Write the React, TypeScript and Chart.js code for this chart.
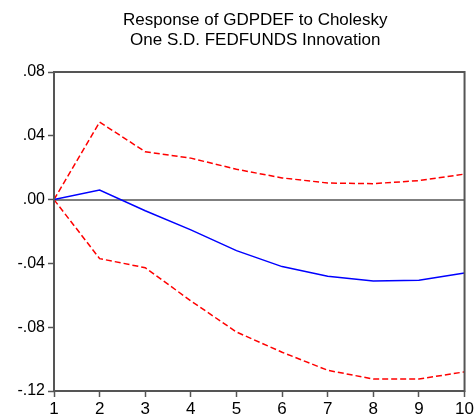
import React, { useEffect, useRef } from "react";
import { Chart, registerables } from "chart.js";

Chart.register(...registerables);

const periods = [1, 2, 3, 4, 5, 6, 7, 8, 9, 10];
const response = [0, 0.006, -0.007, -0.019, -0.032, -0.042, -0.048, -0.051, -0.0506, -0.046];
const upperBand = [0, 0.0486, 0.030, 0.026, 0.019, 0.0136, 0.0104, 0.010, 0.0119, 0.016];
const lowerBand = [0, -0.037, -0.0427, -0.0635, -0.083, -0.0957, -0.107, -0.1125, -0.1125, -0.108];
const yTickValues = [-0.12, -0.08, -0.04, 0, 0.04, 0.08];
const titleLines = ["Response of GDPDEF to Cholesky", "One S.D. FEDFUNDS Innovation"];

const AXIS_COLOR = "#555555";
const FONT = '"Liberation Sans", Arial, sans-serif';

function fmtY(v: number): string {
  if (Math.abs(v) < 1e-9) return ".00";
  return v.toFixed(2).replace(/^(-?)0\./, "$1.");
}

export default function App() {
  const ref = useRef<HTMLCanvasElement | null>(null);

  useEffect(() => {
    if (!ref.current) return;
    const framePlugin = {
      id: "frame",
      beforeDatasetsDraw(chart: any) {
        const { ctx, chartArea: ca, scales } = chart;
        const y0 = Math.round(scales.y.getPixelForValue(0));
        ctx.save();
        ctx.strokeStyle = AXIS_COLOR;
        ctx.lineWidth = 1.5;
        ctx.beginPath();
        ctx.moveTo(ca.left, y0);
        ctx.lineTo(ca.right, y0);
        ctx.stroke();
        ctx.restore();
      },
      afterDatasetsDraw(chart: any) {
        const { ctx, chartArea: ca } = chart;
        ctx.save();
        ctx.strokeStyle = AXIS_COLOR;
        ctx.lineWidth = 2;
        ctx.strokeRect(ca.left, ca.top, ca.right - ca.left, ca.bottom - ca.top);
        ctx.restore();
      },
      afterDraw(chart: any) {
        const { ctx, chartArea: ca } = chart;
        ctx.save();
        ctx.fillStyle = "#000";
        ctx.font = `17px ${FONT}`;
        ctx.textAlign = "center";
        ctx.textBaseline = "alphabetic";
        const cx = (ca.left + ca.right) / 2 - 4;
        ctx.fillText(titleLines[0], cx, 25);
        ctx.fillText(titleLines[1], cx, 44.5);
        ctx.restore();
      },
    };

    const toPts = (arr: number[]) => periods.map((p, i) => ({ x: p, y: arr[i] }));

    const chart = new Chart(ref.current, {
      type: "line",
      data: {
        datasets: [
          {
            label: "Response",
            data: toPts(response),
            borderColor: "#0000ff",
            borderWidth: 1.5,
            pointRadius: 0,
            tension: 0,
            fill: false,
          },
          {
            label: "Upper",
            data: toPts(upperBand),
            borderColor: "#ff0000",
            borderWidth: 1.5,
            borderDash: [6, 3],
            pointRadius: 0,
            tension: 0,
            fill: false,
          },
          {
            label: "Lower",
            data: toPts(lowerBand),
            borderColor: "#ff0000",
            borderWidth: 1.5,
            borderDash: [6, 3],
            pointRadius: 0,
            tension: 0,
            fill: false,
          },
        ],
      },
      options: {
        responsive: false,
        animation: false,
        devicePixelRatio: 1,
        layout: { padding: { top: 72, right: 10, left: 0, bottom: 0 } },
        plugins: {
          legend: { display: false },
          title: { display: false },
          tooltip: { enabled: false },
        },
        scales: {
          x: {
            type: "linear",
            min: 1,
            max: 10,
            border: { display: false },
            grid: {
              drawOnChartArea: false,
              drawTicks: true,
              tickLength: 6,
              tickColor: AXIS_COLOR,
              tickWidth: 1.5,
            },
            ticks: {
              stepSize: 1,
              color: "#000",
              padding: 2,
              font: { family: FONT, size: 17 },
              maxRotation: 0,
              autoSkip: false,
            },
            afterFit(scale: any) {
              scale.height = 27;
            },
          },
          y: {
            type: "linear",
            min: -0.12,
            max: 0.08,
            border: { display: false },
            grid: {
              drawOnChartArea: false,
              drawTicks: true,
              tickLength: 6,
              tickColor: AXIS_COLOR,
              tickWidth: 1.5,
            },
            afterBuildTicks(scale: any) {
              scale.ticks = yTickValues.map((v) => ({ value: v }));
            },
            ticks: {
              color: "#000",
              padding: 3,
              font: { family: FONT, size: 16 },
              callback: (v: any) => fmtY(Number(v)),
            },
            afterFit(scale: any) {
              scale.width = 54;
            },
          },
        },
      },
      plugins: [framePlugin],
    } as any);

    return () => chart.destroy();
  }, []);

  return (
    <div style={{ position: "fixed", left: 0, top: 0, width: 476, height: 418, background: "#fff" }}>
      <canvas ref={ref} width={476} height={418} style={{ display: "block" }} />
    </div>
  );
}
